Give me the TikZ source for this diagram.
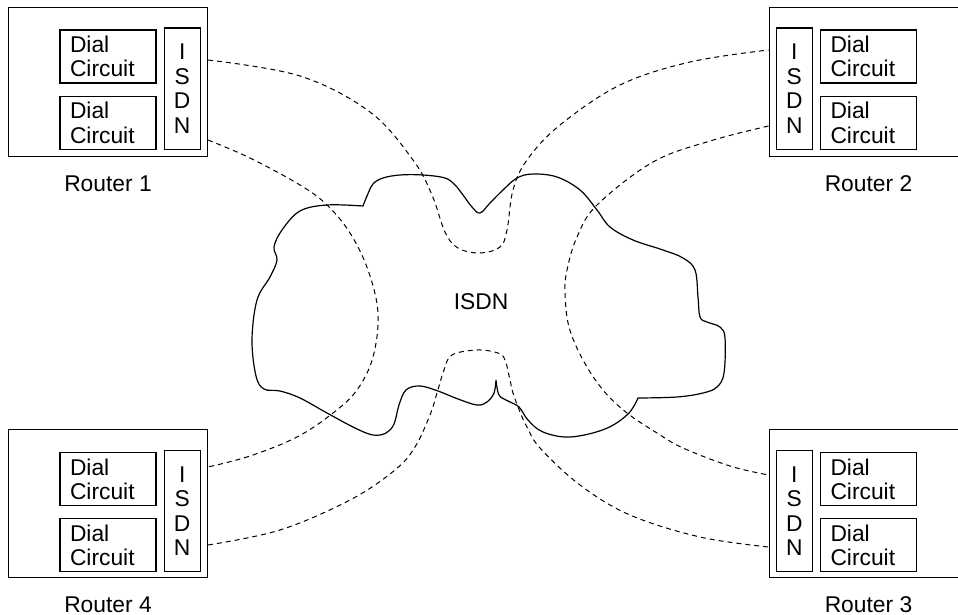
\documentclass[tikz,border=0pt]{standalone}
\usepackage{fontspec}
\setmainfont{Liberation Sans}
\usepackage{tikz}
\usetikzlibrary{positioning,calc}

\begin{document}
\begin{tikzpicture}[x=0.5pt, y=-0.5pt,
    every node/.style={font=\fontsize{11.4}{12.2}\selectfont},
    router/.style={draw, line width=0.5pt, minimum width=99.5pt, minimum height=74pt},
    dial/.style={draw, line width=0.6pt, text width=38pt, align=left, inner xsep=5pt, inner ysep=2pt, minimum height=26.5pt},
    isdnbar/.style={draw, line width=0.6pt, align=center, minimum width=18pt, minimum height=60.5pt, inner sep=1pt},
    link/.style={line width=0.5pt, dash pattern=on 2.5pt off 2pt},
    cloudline/.style={line width=0.6pt}]
    \useasboundingbox (0,0) rectangle (958,615);
    \clip (0,0) rectangle (958,615);

    % routers
    \node [router] (r1) at (108,82) {};
    \node [dial, below=11pt of r1.north] (d1a) {Dial\\Circuit};
    \node [dial, below=6pt of d1a] (d1b) {Dial\\Circuit};
    \node [isdnbar, right=3.5pt of d1a.north east, anchor=north west, yshift=1pt] (i1) {I\\S\\D\\N};
    \node [below=6pt of r1] (l1) {Router 1};

    \node [router] (r2) at (868.5,82) {};
    \node [dial, below=11pt of r2.north] (d2a) {Dial\\Circuit};
    \node [dial, below=6pt of d2a] (d2b) {Dial\\Circuit};
    \node [isdnbar, left=3.5pt of d2a.north west, anchor=north east, yshift=1pt] (i2) {I\\S\\D\\N};
    \node [below=6pt of r2] (l2) {Router 2};

    \node [router] (r3) at (868.5,503.5) {};
    \node [dial, below=11.5pt of r3.north] (d3a) {Dial\\Circuit};
    \node [dial, below=6pt of d3a] (d3b) {Dial\\Circuit};
    \node [isdnbar, left=3.5pt of d3a.north west, anchor=north east, yshift=1pt] (i3) {I\\S\\D\\N};
    \node [below=6pt of r3] (l3) {Router 3};

    \node [router] (r4) at (108,503.5) {};
    \node [dial, below=11.5pt of r4.north] (d4a) {Dial\\Circuit};
    \node [dial, below=6pt of d4a] (d4b) {Dial\\Circuit};
    \node [isdnbar, right=3.5pt of d4a.north east, anchor=north west, yshift=1pt] (i4) {I\\S\\D\\N};
    \node [below=6pt of r4] (l4) {Router 4};

    % cloud
    \node (net) at (481,301.5) {ISDN};
    \draw [cloudline] plot [smooth, tension=0.6] coordinates {(496,380) (494,393) (487,402) (477,405) (458,399) (438,391) (420,386) (406,390) (399,405) (394,424) (386,433) (373,435) (355,428) (327,413) (300,398) (280,391) (264,389) (256,376) (252,340) (257,300) (270,277) (277,260) (274,247) (282,230) (300,211) (327,205) (363,206)}
        -- plot [smooth, tension=0.6] coordinates {(363,206) (367,196) (373,184) (383,178) (400,175) (423,175) (445,178) (455,185) (463,195) (472,207) (480,213) (490,203) (503,190) (517,178) (533,174) (557,177) (580,190) (597,210) (610,227) (633,240) (663,250) (683,258) (695,270) (698,297) (700,317) (707,322) (720,327) (725,338) (724,373) (717,387) (703,393) (677,397) (638,398)}
        -- plot [smooth, tension=0.6] coordinates {(638,398) (628,414) (605,429) (570,437) (543,432) (528,420) (519,407) (508,401) (499,395) (496,380)};

    % ports
    \coordinate (r1a) at (r1.east |- 0,60);
    \coordinate (r1b) at (r1.east |- 0,140);
    \coordinate (r2a) at (r2.west |- 0,50);
    \coordinate (r2b) at (r2.west |- 0,126);
    \coordinate (r3a) at (r3.west |- 0,475);
    \coordinate (r3b) at (r3.west |- 0,547);
    \coordinate (r4a) at (r4.east |- 0,467);
    \coordinate (r4b) at (r4.east |- 0,545);

    % dial links
    \draw [link] plot [smooth, tension=0.6] coordinates {(r1a) (300,76) (370,112) (413,160) (432,195) (445,232) (458,248) (480,253) (500,247) (507,230) (513,190) (527,160) (560,125) (620,85) (690,62) (r2a)};
    \draw [link] plot [smooth, tension=0.6] coordinates {(r1b) (250,158) (300,185) (327,205) (350,233) (368,270) (378,313) (373,357) (357,390) (333,413) (297,437) (250,456) (r4a)};
    \draw [link] plot [smooth, tension=0.6] coordinates {(r2b) (710,141) (653,162) (597,205) (577,237) (567,270) (565,293) (569,327) (583,360) (603,390) (627,413) (657,433) (683,448) (730,466) (r3a)};
    \draw [link] plot [smooth, tension=0.6] coordinates {(r4b) (280,530) (350,500) (395,470) (415,447) (430,415) (437,393) (444,370) (452,355) (477,350) (498,353) (505,360) (510,380) (513,393) (520,412) (527,427) (540,448) (580,485) (630,515) (700,537) (r3b)};
\end{tikzpicture}
\end{document}
